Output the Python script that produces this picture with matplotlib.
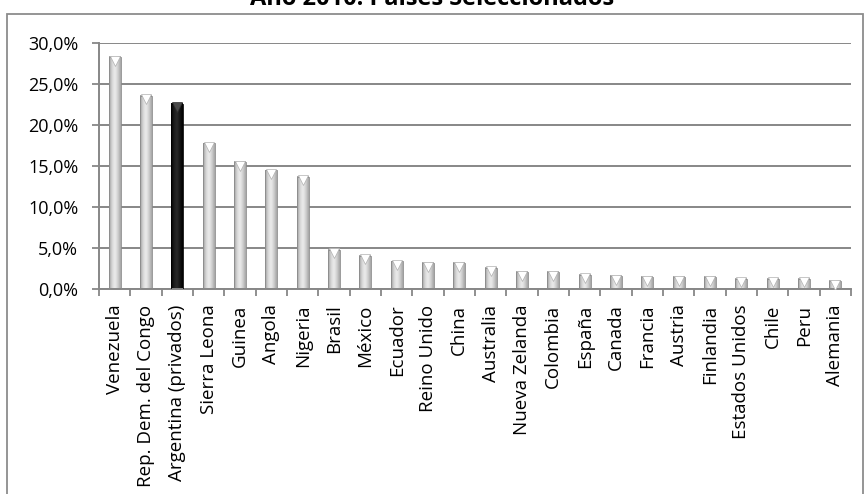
import numpy as np
import matplotlib
matplotlib.use("Agg")
import matplotlib.pyplot as plt
import matplotlib.transforms as mtransforms
from matplotlib.patches import Rectangle
from matplotlib.colors import LinearSegmentedColormap

plt.rcParams['font.family'] = ['Open Sans', 'DejaVu Sans']

# data (percent)
paises = ["Venezuela", "Rep. Dem. del Congo", "Argentina (privados)", "Sierra Leona",
          "Guinea", "Angola", "Nigeria", "Brasil", "México", "Ecuador", "Reino Unido",
          "China", "Australia", "Nueva Zelanda", "Colombia", "España", "Canada",
          "Francia", "Austria", "Finlandia", "Estados Unidos", "Chile", "Peru", "Alemania"]
valores = [28.3, 23.6, 22.6, 17.8, 15.5, 14.5, 13.7, 4.8, 4.1, 3.4, 3.2,
           3.2, 2.6, 2.1, 2.1, 1.8, 1.6, 1.5, 1.5, 1.5, 1.3, 1.3, 1.3, 1.0]
destacado = "Argentina (privados)"
yticks = [0, 5, 10, 15, 20, 25, 30]
titulo = "Año 2010. Países Seleccionados"

fig = plt.figure(figsize=(8.65, 4.94), dpi=100)
ax = fig.add_axes([99/865, 1-289.3/494, 752/865, 246/494])

gris = LinearSegmentedColormap.from_list("gris", ["#9c9c9c", "#d6d6d6", "#ededed", "#d0d0d0", "#a4a4a4"])
negro = LinearSegmentedColormap.from_list("negro", ["#000000", "#1c1c1c", "#2a2a2a", "#141414", "#000000"])
grad = np.linspace(0, 1, 64).reshape(1, -1)
w = 0.38

# gridlines
ax.set_axisbelow(True)
ax.yaxis.grid(True, color="#878787", linewidth=1.4)

x = np.arange(len(paises))
tri_tf = mtransforms.offset_copy(ax.transData, fig=fig, x=0, y=-3.5, units='dots')
for xi, nombre, v in zip(x, paises, valores):
    cmap = negro if nombre == destacado else gris
    ax.imshow(grad, cmap=cmap, aspect='auto', extent=[xi - w/2, xi + w/2, 0, v],
              zorder=2, interpolation='bicubic')
    ax.add_patch(Rectangle((xi - w/2, 0), w, v, fill=False,
                           edgecolor="#8a8a8a" if nombre != destacado else "#000000",
                           linewidth=0.6, zorder=3))
    ax.plot(xi, v, marker='v', markersize=6.5,
            markerfacecolor="#ffffff" if nombre != destacado else "#4a4a4a",
            markeredgecolor="#b0b0b0" if nombre != destacado else "#303030",
            markeredgewidth=0.5, transform=tri_tf, zorder=4)

ax.set_xlim(-0.5, len(paises) - 0.5)
ax.set_ylim(0, 30)
ax.set_yticks(yticks)
ax.set_yticklabels([f"{t:.1f}%".replace(".", ",") for t in yticks], fontsize=13)

ax.set_xticks(x)
ax.set_xticklabels(paises, rotation=90, fontsize=13.5)
ax.set_xticks(np.arange(len(paises) + 1) - 0.5, minor=True)
ax.tick_params(axis='x', which='major', length=0, pad=11)
ax.tick_params(axis='x', which='minor', length=5, width=1.3, color="#878787", direction='out')
ax.tick_params(axis='y', length=5, width=1.3, color="#878787", direction='out', pad=10)

for s in ["top", "right"]:
    ax.spines[s].set_visible(False)
for s in ["left", "bottom"]:
    ax.spines[s].set_color("#878787")
    ax.spines[s].set_linewidth(1.4)

# outer chart border
fig.patches.append(Rectangle((7/865, -0.02), 856/865, 1 - 14/494 + 0.02, transform=fig.transFigure,
                             fill=False, edgecolor="#8c8c8c", linewidth=1.3))
fig.text(0.5, 1 - 5/494, titulo, ha='center', va='baseline', fontsize=17, fontweight='bold')

fig.savefig("out.png", dpi=100)
